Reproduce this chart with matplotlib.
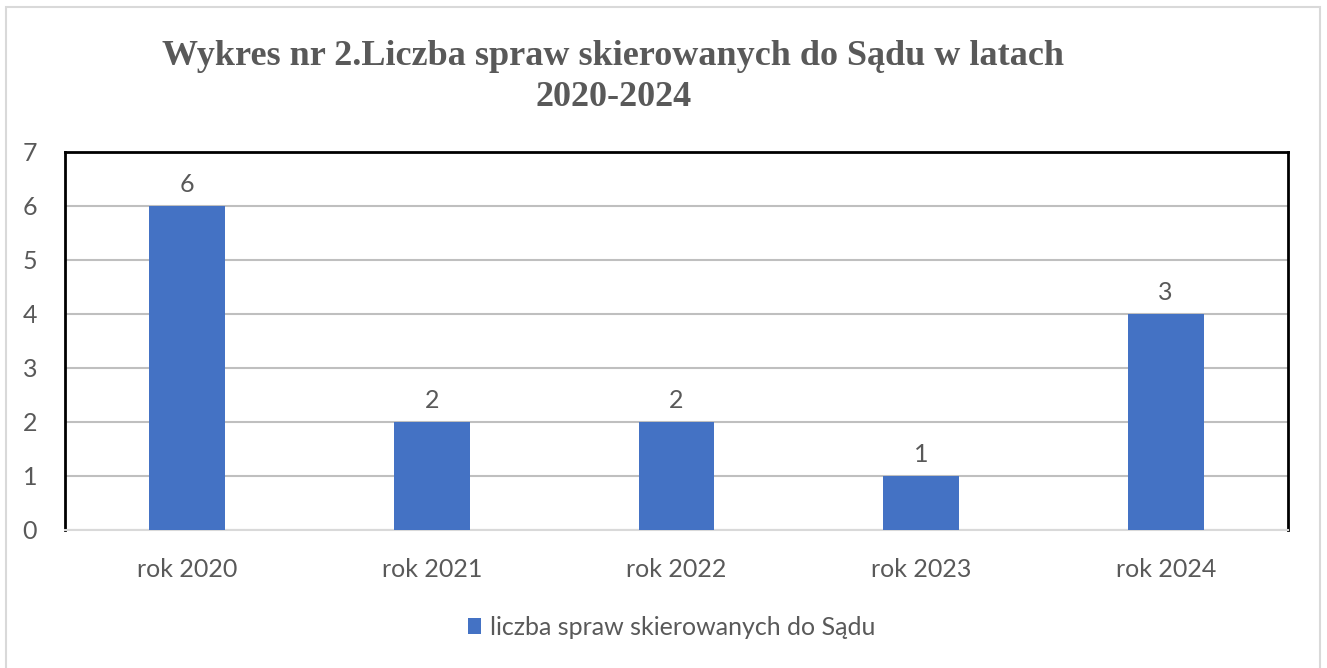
import matplotlib.pyplot as plt
from matplotlib.patches import Rectangle, Patch

categories = ["rok 2020", "rok 2021", "rok 2022", "rok 2023", "rok 2024"]
values = [6, 2, 2, 1, 4]
value_labels = ["6", "2", "2", "1", "3"]   # labels as printed in the source chart
series_name = "liczba spraw skierowanych do Sądu"
title = "Wykres nr 2.Liczba spraw skierowanych do Sądu w latach\n2020-2024"

bar_color = "#4472C4"
text_gray = "#595959"
grid_gray = "#BFBFBF"

fig = plt.figure(figsize=(13.27, 6.68), dpi=100)
ax = fig.add_axes([0.049, 0.2066, 0.9216, 0.566])

# outer frame of the chart area
fig.patches.append(Rectangle((0.0045, -0.01), 0.99, 1.0, transform=fig.transFigure,
                             fill=False, edgecolor="#D9D9D9", linewidth=1.5))

x = range(len(categories))
bars = ax.bar(x, values, width=0.31, color=bar_color, zorder=3)

ax.set_xlim(-0.5, len(categories) - 0.5)
ax.set_ylim(0, 7)
ax.set_yticks(range(0, 8))
ax.set_xticks(list(x))
ax.set_xticklabels(categories)
ax.tick_params(axis="both", length=0, labelsize=18, labelcolor=text_gray)
ax.tick_params(axis="x", pad=20)
ax.tick_params(axis="y", pad=20)
for lbl in ax.get_xticklabels() + ax.get_yticklabels():
    lbl.set_family("Lato")

ax.yaxis.grid(True, color=grid_gray, linewidth=1.5, zorder=0)
for side in ("left", "top", "right"):
    ax.spines[side].set_color("black")
    ax.spines[side].set_linewidth(2)
ax.spines["bottom"].set_color("#D9D9D9")
ax.spines["bottom"].set_linewidth(1.5)

for rect, txt in zip(bars, value_labels):
    ax.annotate(txt, (rect.get_x() + rect.get_width() / 2, rect.get_height()),
                xytext=(0, 7), textcoords="offset points", ha="center", va="bottom",
                fontsize=18, color=text_gray, family="Lato")

fig.text(0.462, 0.885, title, ha="center", va="center", fontsize=26, fontweight="bold",
         color=text_gray, family="Liberation Serif", linespacing=1.3)

fig.legend(handles=[Patch(facecolor=bar_color)], labels=[series_name],
           loc="center", bbox_to_anchor=(0.506, 0.061), frameon=False,
           prop={"family": "Lato", "size": 18}, labelcolor=text_gray,
           handlelength=0.55, handleheight=0.6, handletextpad=0.35)

fig.savefig("out.png", dpi=100)
